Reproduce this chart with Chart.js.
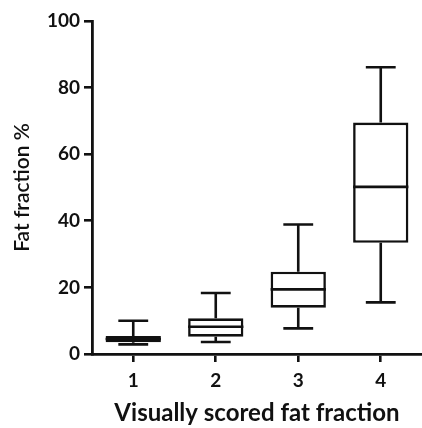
<!DOCTYPE html>
<html>
<head>
<meta charset="utf-8">
<script src="https://cdn.jsdelivr.net/npm/chart.js@4"></script>
<style>
    html, body { margin: 0; padding: 0; background: #fff; }
    #wrap { width: 422px; height: 428px; }
</style>
</head>
<body>
<div id="wrap"><canvas id="myChart" width="422" height="428"></canvas></div>
<script>
// box plot values
const categories = ['1', '2', '3', '4'];
const whiskerLow = [2.9, 3.6, 7.7, 15.5];
const quartile1 = [3.5, 5.2, 13.9, 33.4];
const medians = [4.5, 8.2, 19.4, 50.2];
const quartile3 = [5.4, 10.7, 24.7, 69.5];
const whiskerHigh = [10.0, 18.3, 38.9, 86.1];
const yTicks = [0, 20, 40, 60, 80, 100];

const ink = '#111';

// box = floating bar from q1 to q3
const boxData = [];
for (let index = 0; index < categories.length; index++) {
    boxData.push([quartile1[index], quartile3[index]]);
}

// draws whiskers, caps and median line using the chart scales
const whiskerPlugin = {
    id: 'whiskers',
    afterDatasetsDraw(chart) {
        const ctx = chart.ctx;
        const xScale = chart.scales.x;
        const yScale = chart.scales.y;
        const meta = chart.getDatasetMeta(0);
        ctx.save();
        ctx.strokeStyle = ink;
        ctx.lineWidth = 2.6;
        ctx.lineCap = 'butt';
        for (let index = 0; index < categories.length; index++) {
            const bar = meta.data[index];
            const cx = xScale.getPixelForValue(index);
            const half = bar.width / 2;
            const capHalf = bar.width * 0.27;
            const yMin = yScale.getPixelForValue(whiskerLow[index]);
            const yQ1 = yScale.getPixelForValue(quartile1[index]);
            const yMed = yScale.getPixelForValue(medians[index]);
            const yQ3 = yScale.getPixelForValue(quartile3[index]);
            const yMax = yScale.getPixelForValue(whiskerHigh[index]);

            ctx.beginPath();
            // upper whisker + cap
            ctx.moveTo(cx, yQ3); ctx.lineTo(cx, yMax);
            ctx.moveTo(cx - capHalf, yMax); ctx.lineTo(cx + capHalf, yMax);
            // lower whisker + cap
            ctx.moveTo(cx, yQ1); ctx.lineTo(cx, yMin);
            ctx.moveTo(cx - capHalf, yMin); ctx.lineTo(cx + capHalf, yMin);
            // median
            ctx.moveTo(cx - half, yMed); ctx.lineTo(cx + half, yMed);
            ctx.stroke();
        }
        ctx.restore();
    }
};

const ctx = document.getElementById('myChart');

const mychartView = new Chart(ctx, {
    type: 'bar',
    data: {
        labels: categories,
        datasets: [{
            data: boxData,
            backgroundColor: '#fff',
            borderColor: ink,
            borderWidth: 2.6,
            borderSkipped: false,
            categoryPercentage: 1,
            barPercentage: 0.67
        }]
    },
    options: {
        responsive: false,
        animation: false,
        layout: { padding: { top: 21, right: 0, bottom: 0, left: 0 } },
        plugins: {
            legend: { display: false },
            tooltip: { enabled: false }
        },
        scales: {
            x: {
                offset: true,
                grid: {
                    offset: false,
                    drawOnChartArea: false,
                    drawTicks: true,
                    tickLength: 8,
                    color: ink,
                    lineWidth: 2.6
                },
                border: { color: ink, width: 2.8 },
                ticks: {
                    color: ink,
                    padding: 7,
                    font: { family: 'Lato', size: 19, weight: 'bold' }
                },
                title: {
                    display: true,
                    text: 'Visually scored fat fraction',
                    color: ink,
                    padding: { top: 4, bottom: 0 },
                    font: { family: 'Lato', size: 24, weight: 'bold' }
                },
                afterFit: (scale) => { scale.height = 74; }
            },
            y: {
                min: 0,
                max: 100,
                afterBuildTicks: (scale) => {
                    scale.ticks = yTicks.map(v => ({ value: v }));
                },
                grid: {
                    drawOnChartArea: false,
                    drawTicks: true,
                    tickLength: 8,
                    color: ink,
                    lineWidth: 2.6
                },
                border: { color: ink, width: 2.8 },
                ticks: {
                    color: ink,
                    padding: 4,
                    font: { family: 'Lato', size: 19, weight: 'bold' }
                },
                title: {
                    display: true,
                    text: 'Fat fraction %',
                    color: ink,
                    padding: { top: 10, bottom: 0 },
                    font: { family: 'Lato', size: 21, weight: '600' }
                },
                afterFit: (scale) => { scale.width = 92; }
            }
        }
    },
    plugins: [whiskerPlugin]
});
</script>
</body>
</html>
